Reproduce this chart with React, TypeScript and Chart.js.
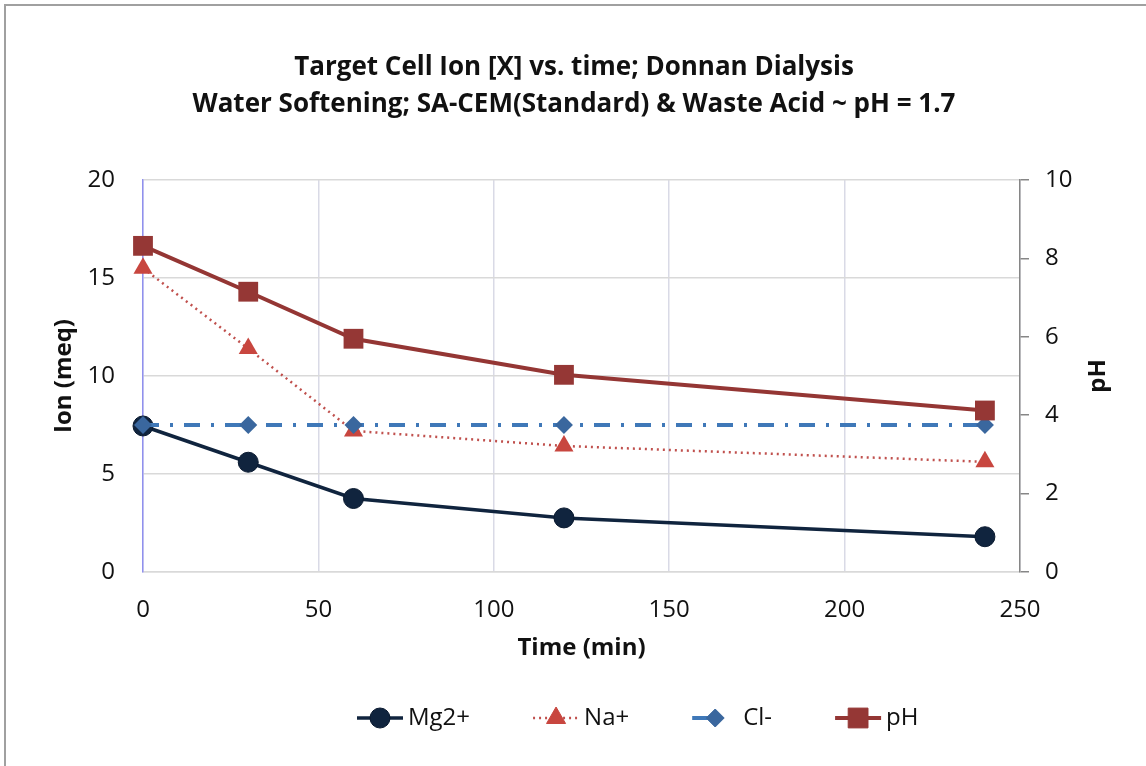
import React, { useEffect, useRef } from "react";
import { Chart, registerables } from "chart.js";

Chart.register(...registerables);

// ---- data ----
const times = [0, 30, 60, 120, 240];
const mgValues = [7.45, 5.6, 3.75, 2.76, 1.8];
const naValues = [15.5, 11.4, 7.2, 6.43, 5.62];
const clValues = [7.5, 7.5, 7.5, 7.5, 7.5];
const phValues = [8.32, 7.15, 5.95, 5.03, 4.12];

const seriesNames = ["Mg2+", "Na+", "Cl-", "pH"];
const titleLines = [
  "Target Cell Ion [X] vs. time; Donnan Dialysis",
  "Water Softening; SA-CEM(Standard) & Waste Acid ~ pH = 1.7",
];
const xTitle = "Time (min)";
const yTitle = "Ion (meq)";
const y1Title = "pH";
const xTicks = { min: 0, max: 250, step: 50 };
const yTicks = { min: 0, max: 20, step: 5 };
const y1Ticks = { min: 0, max: 10, step: 2 };

const FONT = "'Open Sans', Lato, sans-serif";
const TEXT = "#111111";

const toPoints = (ys: number[]) => times.map((t, i) => ({ x: t, y: ys[i] }));

function drawMarker(ctx: CanvasRenderingContext2D, style: string, r: number, x: number, y: number) {
  ctx.beginPath();
  if (style === "circle") {
    ctx.arc(x, y, r, 0, Math.PI * 2);
  } else if (style === "triangle") {
    ctx.moveTo(x, y - r);
    ctx.lineTo(x + r * Math.sin(Math.PI / 3), y + r * 0.5);
    ctx.lineTo(x - r * Math.sin(Math.PI / 3), y + r * 0.5);
    ctx.closePath();
  } else if (style === "rectRot") {
    ctx.moveTo(x, y - r);
    ctx.lineTo(x + r, y);
    ctx.lineTo(x, y + r);
    ctx.lineTo(x - r, y);
    ctx.closePath();
  } else {
    const s = r * Math.SQRT1_2;
    ctx.rect(x - s, y - s, 2 * s, 2 * s);
  }
  ctx.fill();
  if (ctx.lineWidth > 0) ctx.stroke();
}

const decorPlugin = {
  id: "decor",
  beforeDraw(chart: any) {
    const { ctx, width, height } = chart;
    ctx.save();
    ctx.fillStyle = "#ffffff";
    ctx.fillRect(0, 0, width, height);
    ctx.strokeStyle = "#a0a0a0";
    ctx.lineWidth = 2;
    ctx.beginPath();
    ctx.moveTo(5, height);
    ctx.lineTo(5, 5);
    ctx.lineTo(width, 5);
    ctx.stroke();
    ctx.restore();
  },
  afterDraw(chart: any) {
    const { ctx, chartArea } = chart;
    ctx.save();
    // Title
    ctx.fillStyle = TEXT;
    ctx.font = `bold 26px ${FONT}`;
    ctx.textAlign = "center";
    ctx.textBaseline = "middle";
    ctx.fillText(titleLines[0], 574, 68);
    ctx.fillText(titleLines[1], 574, 105);

    // right axis title (rotated like the left one)
    ctx.save();
    ctx.translate(1098, (chartArea.top + chartArea.bottom) / 2);
    ctx.rotate(-Math.PI / 2);
    ctx.font = `bold 24px ${FONT}`;
    ctx.fillText(y1Title, 0, 0);
    ctx.restore();

    // Legend
    const legendY = 718;
    const sampleW = 46;
    let x = 357;
    ctx.font = `24px ${FONT}`;
    ctx.textAlign = "left";
    chart.data.datasets.forEach((ds: any) => {
      ctx.save();
      ctx.strokeStyle = ds.borderColor;
      ctx.lineWidth = ds.borderWidth;
      const dash = ds.borderDash && ds.borderDash.length > 2 ? [sampleW / 2, sampleW] : ds.borderDash || [];
      ctx.setLineDash(dash);
      ctx.beginPath();
      ctx.moveTo(x, legendY);
      ctx.lineTo(x + sampleW, legendY);
      ctx.stroke();
      ctx.restore();
      ctx.save();
      ctx.fillStyle = ds.pointBackgroundColor;
      ctx.strokeStyle = ds.pointBorderColor;
      ctx.lineWidth = ds.pointBorderWidth;
      drawMarker(ctx, ds.pointStyle, ds.pointRadius, x + sampleW / 2, legendY);
      ctx.restore();
      ctx.fillStyle = TEXT;
      const label = ds.label;
      ctx.fillText(label, x + sampleW + 5, legendY);
      x += sampleW + 5 + ctx.measureText(label).width + 63;
    });
    ctx.restore();
  },
};

export default function App() {
  const ref = useRef<HTMLCanvasElement | null>(null);

  useEffect(() => {
    if (!ref.current) return;
    const tickFont = { family: FONT, size: 24 };
    const titleFont = { family: FONT, size: 24, weight: "bold" as const };
    const chart = new Chart(ref.current, {
      type: "line",
      data: {
        datasets: [
          {
            label: seriesNames[0],
            data: toPoints(mgValues),
            yAxisID: "y",
            borderColor: "#10243e",
            borderWidth: 3.5,
            pointStyle: "circle",
            pointRadius: 10,
            pointBackgroundColor: "#10243e",
            pointBorderColor: "#0a1a30",
            pointBorderWidth: 1,
            order: 3,
            clip: false,
          },
          {
            label: seriesNames[1],
            data: toPoints(naValues),
            yAxisID: "y",
            borderColor: "#c0504d",
            borderWidth: 2.5,
            borderDash: [2, 4],
            pointStyle: "triangle",
            pointRadius: 11,
            pointBackgroundColor: "#c8463f",
            pointBorderColor: "#c8463f",
            pointBorderWidth: 0,
            order: 2,
            clip: false,
          },
          {
            label: seriesNames[2],
            data: toPoints(clValues),
            yAxisID: "y",
            borderColor: "#3f78b8",
            borderWidth: 4,
            borderDash: [16, 11, 3, 11],
            pointStyle: "rectRot",
            pointRadius: 9,
            pointBackgroundColor: "#3a679e",
            pointBorderColor: "#3a679e",
            pointBorderWidth: 0,
            order: 1,
            clip: false,
          },
          {
            label: seriesNames[3],
            data: toPoints(phValues),
            yAxisID: "y1",
            borderColor: "#943634",
            borderWidth: 4,
            pointStyle: "rect",
            pointRadius: 14,
            pointBackgroundColor: "#953735",
            pointBorderColor: "#953735",
            pointBorderWidth: 0,
            order: 0,
            clip: false,
          },
        ],
      },
      options: {
        responsive: false,
        animation: false,
        layout: { padding: { top: 180, left: 0, right: 0, bottom: 101 } },
        plugins: {
          legend: { display: false },
          title: { display: false },
          tooltip: { enabled: false },
        },
        scales: {
          x: {
            type: "linear",
            min: xTicks.min,
            max: xTicks.max,
            ticks: { stepSize: xTicks.step, padding: 24, font: tickFont, color: TEXT },
            grid: { color: "#d9dae6", lineWidth: 1.5, drawTicks: false },
            border: { color: "#d9d9d9", width: 1.5 },
            title: { display: true, text: xTitle, font: titleFont, color: TEXT, padding: { top: 0, bottom: 2 } },
            afterFit: (s: any) => {
              s.height = 93;
            },
          },
          y: {
            position: "left",
            min: yTicks.min,
            max: yTicks.max,
            ticks: { stepSize: yTicks.step, padding: 28, font: tickFont, color: TEXT },
            grid: { color: "#d9d9d9", lineWidth: 1.5, drawTicks: false },
            border: { color: "#9090ee", width: 1.5 },
            title: { display: true, text: yTitle, font: titleFont, color: TEXT, padding: { top: 50, bottom: 0 } },
            afterFit: (s: any) => {
              s.width = 143;
            },
          },
          y1: {
            position: "right",
            min: y1Ticks.min,
            max: y1Ticks.max,
            ticks: { stepSize: y1Ticks.step, padding: 16, font: tickFont, color: TEXT },
            grid: { drawOnChartArea: false, drawTicks: true, tickLength: 9, color: "#868686", lineWidth: 1.5 },
            border: { color: "#868686", width: 1.5 },
            afterFit: (s: any) => {
              s.width = 126;
            },
          },
        },
      },
      plugins: [decorPlugin],
    });
    return () => chart.destroy();
  }, []);

  return (
    <div style={{ position: "absolute", left: 0, top: 0, width: 1146, height: 766 }}>
      <canvas ref={ref} width={1146} height={766} style={{ width: 1146, height: 766, display: "block" }} />
    </div>
  );
}
